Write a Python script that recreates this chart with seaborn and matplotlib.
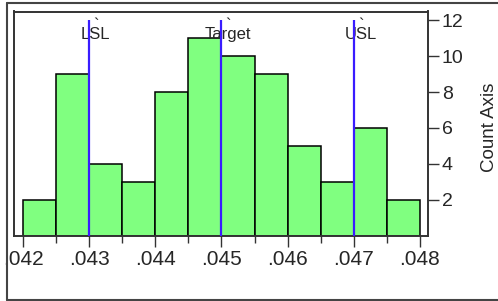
import numpy as np
import pandas as pd
import seaborn as sns
import matplotlib.pyplot as plt
from matplotlib.lines import Line2D
from matplotlib.ticker import MultipleLocator, FixedLocator

# ---------------------------------------------
# data
# ---------------------------------------------
bin_centers = [0.04225, 0.04275, 0.04325, 0.04375, 0.04425, 0.04475,
               0.04525, 0.04575, 0.04625, 0.04675, 0.04725, 0.04775]
counts = [2, 9, 4, 3, 8, 11, 10, 9, 5, 3, 6, 2]

spec_names = ['LSL', 'Target', 'USL']
spec_values = [0.043, 0.045, 0.047]

x_ticks = [0.042, 0.043, 0.044, 0.045, 0.046, 0.047, 0.048]
x_tick_labels = ['.042', '.043', '.044', '.045', '.046', '.047', '.048']
y_ticks = [2, 4, 6, 8, 10, 12]

df = pd.DataFrame({'value': bin_centers, 'count': counts})

sns.set_style('white')
plt.rcParams['font.family'] = ['Liberation Sans', 'DejaVu Sans']

W, H = 498, 301
fig = plt.figure(figsize=(W / 100, H / 100), dpi=100)
ax = fig.add_axes([14 / W, 1 - 235.5 / H, (428 - 14) / W, (235.5 - 11.5) / H])

sns.histplot(
    data=df, x='value', weights='count',
    binwidth=0.0005, binrange=(0.042, 0.048),
    color='#80ff80', alpha=1, edgecolor='black', linewidth=1.1,
    ax=ax
)

# spec limit lines + labels (backtick mark sits right above each label)
for name, val in zip(spec_names, spec_values):
    ax.vlines(val, 0, 12.0, color='#3a1cff', linewidth=1.6, zorder=5)
    ax.text(val + 0.0001, 10.96, '`\n' + name, ha='center', va='baseline',
            fontsize=12, linespacing=0.5, multialignment='center')

ax.set_xlim(0.041864, 0.048121)
ax.set_ylim(0, 12.5)

ax.xaxis.set_major_locator(FixedLocator(x_ticks))
ax.set_xticklabels(x_tick_labels)
ax.xaxis.set_minor_locator(MultipleLocator(0.0005))
ax.tick_params(axis='x', which='major', direction='out', length=8, width=1,
               labelsize=15, pad=2.5, bottom=True, color='#333333')
ax.tick_params(axis='x', which='minor', direction='out', length=5, width=1,
               bottom=True, color='#333333')

ax.yaxis.tick_right()
ax.yaxis.set_label_position('right')
ax.set_yticks(y_ticks)
ax.tick_params(axis='y', direction='out', length=8, width=1, labelsize=14,
               pad=2, right=True, left=False, color='#333333')

ax.set_xlabel('')
ax.set_ylabel('Count Axis', fontsize=13.5)
ax.yaxis.set_label_coords((489 - 14) / 414, 1 - (127 - 11.5) / 224)
ax.yaxis.label.set_va('center')

for sp in ax.spines.values():
    sp.set_visible(True)
    sp.set_color('#333333')
    sp.set_linewidth(1.4)

# outer frame
frame_kw = dict(color='#444444', linewidth=1.5, transform=fig.transFigure)
fig.add_artist(Line2D([7 / W, 1], [1 - 3 / H, 1 - 3 / H], **frame_kw))
fig.add_artist(Line2D([7 / W, 7 / W], [1 - 3 / H, 1 - 300 / H], **frame_kw))
fig.add_artist(Line2D([7 / W, 1], [1 - 299.5 / H, 1 - 299.5 / H], **frame_kw))

fig.savefig('out.png', dpi=100)
